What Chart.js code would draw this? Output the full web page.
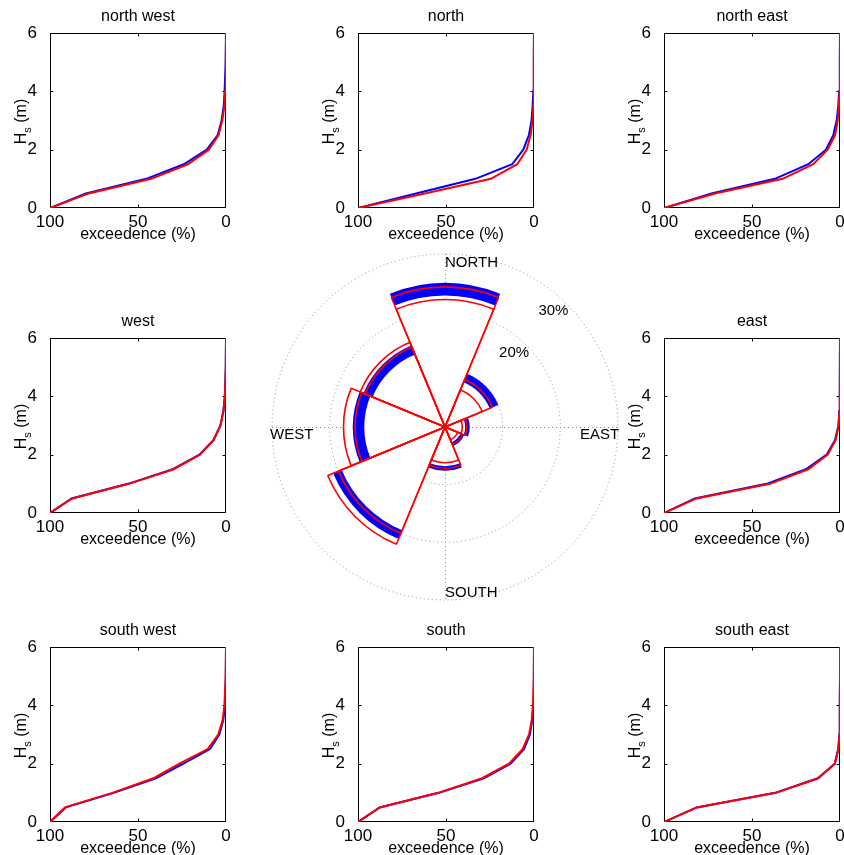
<!DOCTYPE html>
<html>
<head>
<meta charset="utf-8">
<title>Wave climate</title>
<script src="https://cdn.jsdelivr.net/npm/chart.js@4.4.1/dist/chart.umd.min.js"></script>
<style>
  html, body { margin: 0; padding: 0; background: #fff; overflow: hidden; }
  #wrap { position: relative; width: 844px; height: 855px; overflow: hidden; }
  #wrap canvas { position: absolute; }
</style>
</head>
<body>
<div id="wrap">
  <canvas id="c-nw" width="276" height="250" style="left:0px;top:0px"></canvas>
  <canvas id="c-n" width="276" height="250" style="left:308px;top:0px"></canvas>
  <canvas id="c-ne" width="276" height="250" style="left:614px;top:0px"></canvas>
  <canvas id="c-w" width="276" height="250" style="left:0px;top:305px"></canvas>
  <canvas id="c-e" width="276" height="250" style="left:614px;top:305px"></canvas>
  <canvas id="c-sw" width="276" height="250" style="left:0px;top:614px"></canvas>
  <canvas id="c-s" width="276" height="250" style="left:308px;top:614px"></canvas>
  <canvas id="c-se" width="276" height="250" style="left:614px;top:614px"></canvas>
  <canvas id="c-rose" width="380" height="370" style="left:255px;top:247px"></canvas>
</div>
<script>
// significant wave height levels (m)
const hsLevels = [0, 0.5, 1, 1.5, 2, 2.5, 3, 3.5, 4, 5, 6];

// exceedence (%) at each Hs level, per direction
const nwBlue = [100, 79.6, 45.3, 24.0, 10.9, 4.7, 2.5, 1.3, 0.8, 0.2, 0];
const nwRed  = [100, 78.0, 42.5, 21.7, 9.8, 4.2, 2.1, 0.9, 0.5, 0.1, 0];
const nBlue  = [100, 67.0, 33.3, 12.4, 6.1, 2.9, 1.4, 0.8, 0.4, 0.1, 0];
const nRed   = [100, 62.0, 24.5, 9.5, 4.2, 1.9, 0.8, 0.4, 0.2, 0.05, 0];
const neBlue = [100, 73.0, 37.0, 18.0, 8.0, 3.8, 1.9, 1.0, 0.5, 0.1, 0];
const neRed  = [100, 71.0, 32.6, 15.2, 7.0, 2.8, 1.3, 0.6, 0.3, 0.05, 0];
const wBlue  = [100, 87.7, 55.7, 30.2, 15.1, 7.2, 3.2, 1.5, 0.7, 0.15, 0];
const wRed   = [100, 87.5, 55.2, 29.8, 14.8, 7.0, 3.1, 1.4, 0.6, 0.1, 0];
const eBlue  = [100, 82.5, 41.7, 19.4, 7.6, 2.8, 0.9, 0.4, 0.2, 0.05, 0];
const eRed   = [100, 81.6, 39.8, 18.0, 7.0, 2.5, 0.8, 0.3, 0.1, 0, 0];
const swBlue = [100, 91.0, 63.8, 39.8, 24.2, 9.1, 3.8, 1.5, 0.6, 0.1, 0];
const swRed  = [100, 91.5, 64.6, 41.3, 26.5, 10.4, 4.4, 1.9, 0.9, 0.2, 0];
const sBlue  = [100, 87.7, 54.0, 28.5, 13.3, 5.7, 2.3, 1.0, 0.4, 0.1, 0];
const sRed   = [100, 87.7, 54.5, 29.5, 14.2, 6.5, 2.8, 1.3, 0.6, 0.1, 0];
const seBlue = [100, 81.5, 36.8, 12.6, 3.0, 1.0, 0.4, 0.2, 0.1, 0, 0];
const seRed  = [100, 81.3, 36.5, 12.4, 2.9, 0.9, 0.3, 0.15, 0.05, 0, 0];

// rose: directional frequency (%), clockwise from north
const roseLabels = ["N", "NE", "E", "SE", "S", "SW", "W", "NW"];
const roseBlueHi = [25.0, 10.0, 4.3, 3.6, 7.6, 21.0, 16.0, 15.3];
const roseBlueLo = [22.8, 8.4, 3.5, 2.9, 6.8, 19.4, 14.0, 13.6];
const roseRedA   = [24.3, 8.9, 3.8, 3.3, 7.2, 20.0, 15.6, 15.0];
const roseRedB   = [22.1, 7.0, 3.0, 2.4, 6.2, 22.0, 17.6, 15.9];
const roseTickValues = [20, 30];
const compassLabels = ["NORTH", "EAST", "SOUTH", "WEST"];

const FONT = '"Liberation Sans", Arial, Helvetica, sans-serif';
Chart.defaults.font.family = FONT;
Chart.defaults.color = "#000";

function toPoints(values) {
  return hsLevels.map((h, i) => ({ x: values[i], y: h }));
}

// box round the axes with matlab style inward ticks
const framePlugin = {
  id: "frame",
  beforeDatasetsDraw(chart) {
    const { ctx, chartArea: a, scales } = chart;
    const l = Math.round(a.left) + 0.5, r = Math.round(a.right) - 0.5;
    const t = Math.round(a.top) + 0.5, b = Math.round(a.bottom) - 0.5;
    ctx.save();
    ctx.strokeStyle = "#000";
    ctx.lineWidth = 1;
    ctx.strokeRect(l, t, r - l, b - t);
    ctx.beginPath();
    scales.x.ticks.forEach((tk) => {
      if (tk.value === scales.x.min || tk.value === scales.x.max) return;
      const px = Math.round(scales.x.getPixelForValue(tk.value)) + 0.5;
      ctx.moveTo(px, b); ctx.lineTo(px, b - 3);
      ctx.moveTo(px, t); ctx.lineTo(px, t + 3);
    });
    scales.y.ticks.forEach((tk) => {
      if (tk.value === scales.y.min || tk.value === scales.y.max) return;
      const py = Math.round(scales.y.getPixelForValue(tk.value)) + 0.5;
      ctx.moveTo(l, py); ctx.lineTo(l + 3, py);
      ctx.moveTo(r, py); ctx.lineTo(r - 3, py);
    });
    ctx.stroke();
    ctx.restore();
  }
};

// y title with subscript: H_s (m)
const hsTitlePlugin = {
  id: "hsTitle",
  afterDraw(chart) {
    const { ctx, chartArea: a } = chart;
    const big = "16px " + FONT;
    const small = "11px " + FONT;
    ctx.save();
    ctx.font = big;
    const wH = ctx.measureText("H").width;
    const wM = ctx.measureText(" (m)").width;
    ctx.font = small;
    const wS = ctx.measureText("s").width;
    const total = wH + wS + wM;
    ctx.translate(22, (a.top + a.bottom) / 2 + 1);
    ctx.rotate(-Math.PI / 2);
    ctx.fillStyle = "#000";
    ctx.textAlign = "left";
    ctx.textBaseline = "alphabetic";
    let x = -total / 2;
    ctx.font = big;
    ctx.fillText("H", x, 4);
    x += wH;
    ctx.font = small;
    ctx.fillText("s", x, 9);
    x += wS;
    ctx.font = big;
    ctx.fillText(" (m)", x, 4);
    ctx.restore();
  }
};

function renderExceedChart(canvasId, title, blue, red) {
  const ctx = document.getElementById(canvasId);
  return new Chart(ctx, {
    type: "scatter",
    data: {
      datasets: [
        { label: "red", data: toPoints(red), borderColor: "#ff0000", showLine: true, order: 0 },
        { label: "blue", data: toPoints(blue), borderColor: "#0000ff", showLine: true, order: 1 }
      ]
    },
    options: {
      responsive: false,
      animation: false,
      events: [],
      layout: { padding: 0 },
      elements: {
        point: { radius: 0 },
        line: { borderWidth: 2, tension: 0 }
      },
      plugins: {
        legend: { display: false },
        tooltip: { enabled: false },
        title: {
          display: true,
          text: title,
          color: "#000",
          font: { size: 16, weight: "normal", lineHeight: 1.2 },
          padding: { top: 7, bottom: 6.8 }
        }
      },
      scales: {
        x: {
          type: "linear",
          reverse: true,
          min: 0,
          max: 100,
          grid: { display: false },
          border: { display: false },
          ticks: { stepSize: 50, padding: -4, color: "#000", font: { size: 17 }, maxRotation: 0 },
          title: {
            display: true,
            text: "exceedence (%)",
            color: "#000",
            font: { size: 16 },
            padding: { top: 0, bottom: 6 }
          },
          afterFit: (s) => { s.height = 42; }
        },
        y: {
          type: "linear",
          min: 0,
          max: 6,
          grid: { display: false },
          border: { display: false },
          ticks: { stepSize: 2, padding: 5, color: "#000", font: { size: 17 } },
          afterFit: (s) => { s.width = 50; }
        },
        // empty right margin so the title sits over the plot centre
        yPad: {
          type: "linear",
          position: "right",
          min: 0,
          max: 6,
          grid: { display: false },
          border: { display: false },
          ticks: { display: false },
          afterFit: (s) => { s.width = 50; }
        }
      }
    },
    plugins: [framePlugin, hsTitlePlugin]
  });
}

// dotted spokes, compass words and % labels under the rose
const roseGridPlugin = {
  id: "roseGrid",
  beforeDatasetsDraw(chart) {
    const { ctx } = chart;
    const sc = chart.scales.r;
    const cx = sc.xCenter, cy = sc.yCenter, R = sc.drawingArea;
    ctx.save();
    ctx.strokeStyle = "#8c8c8c";
    ctx.lineWidth = 1;
    ctx.setLineDash([1, 3]);
    ctx.beginPath();
    ctx.moveTo(cx + 0.5, cy - R); ctx.lineTo(cx + 0.5, cy + R);
    ctx.moveTo(cx - R, cy + 0.5); ctx.lineTo(cx + R, cy + 0.5);
    ctx.stroke();
    ctx.setLineDash([]);

    ctx.fillStyle = "#000";
    ctx.font = "15px " + FONT;
    ctx.textBaseline = "middle";
    ctx.textAlign = "left";
    const spots = [[0, -164], [135, 8], [0, 166], [-175, 8]];
    compassLabels.forEach((txt, i) => {
      ctx.fillText(txt, cx + spots[i][0], cy + spots[i][1]);
    });

    ctx.textAlign = "center";
    const ang = 47 * Math.PI / 180;
    roseTickValues.forEach((v) => {
      const d = sc.getDistanceFromCenterForValue(v) - 14;
      ctx.fillText(v + "%", cx + Math.cos(ang) * d, cy - Math.sin(ang) * d);
    });
    ctx.restore();
  }
};

function renderRose() {
  const ctx = document.getElementById("c-rose");
  const none = "rgba(0,0,0,0)";
  return new Chart(ctx, {
    type: "polarArea",
    data: {
      labels: roseLabels,
      datasets: [
        { label: "red A", data: roseRedA, backgroundColor: none, borderColor: "#ff0000", borderWidth: 1.6, order: 1 },
        { label: "red B", data: roseRedB, backgroundColor: none, borderColor: "#ff0000", borderWidth: 1.6, order: 2 },
        { label: "blue low", data: roseBlueLo, backgroundColor: "#ffffff", borderWidth: 0, order: 3 },
        { label: "blue high", data: roseBlueHi, backgroundColor: "#0000ff", borderWidth: 0, order: 4 },
        { label: "mask", data: roseRedB, backgroundColor: "#ffffff", borderWidth: 0, order: 5 }
      ]
    },
    options: {
      responsive: false,
      animation: false,
      events: [],
      layout: { padding: { left: 17, right: 17, top: 7, bottom: 17 } },
      plugins: {
        legend: { display: false },
        tooltip: { enabled: false }
      },
      scales: {
        r: {
          min: 0,
          max: 30,
          startAngle: -22.5,
          ticks: { display: false, stepSize: 10 },
          angleLines: { display: false },
          pointLabels: { display: false },
          grid: { circular: true, color: "#8c8c8c", lineWidth: 1, borderDash: [1, 3] },
          border: { dash: [1, 3] }
        }
      }
    },
    plugins: [roseGridPlugin]
  });
}

document.addEventListener("DOMContentLoaded", () => {
  renderExceedChart("c-nw", "north west", nwBlue, nwRed);
  renderExceedChart("c-n", "north", nBlue, nRed);
  renderExceedChart("c-ne", "north east", neBlue, neRed);
  renderExceedChart("c-w", "west", wBlue, wRed);
  renderExceedChart("c-e", "east", eBlue, eRed);
  renderExceedChart("c-sw", "south west", swBlue, swRed);
  renderExceedChart("c-s", "south", sBlue, sRed);
  renderExceedChart("c-se", "south east", seBlue, seRed);
  renderRose();
});
</script>
</body>
</html>
